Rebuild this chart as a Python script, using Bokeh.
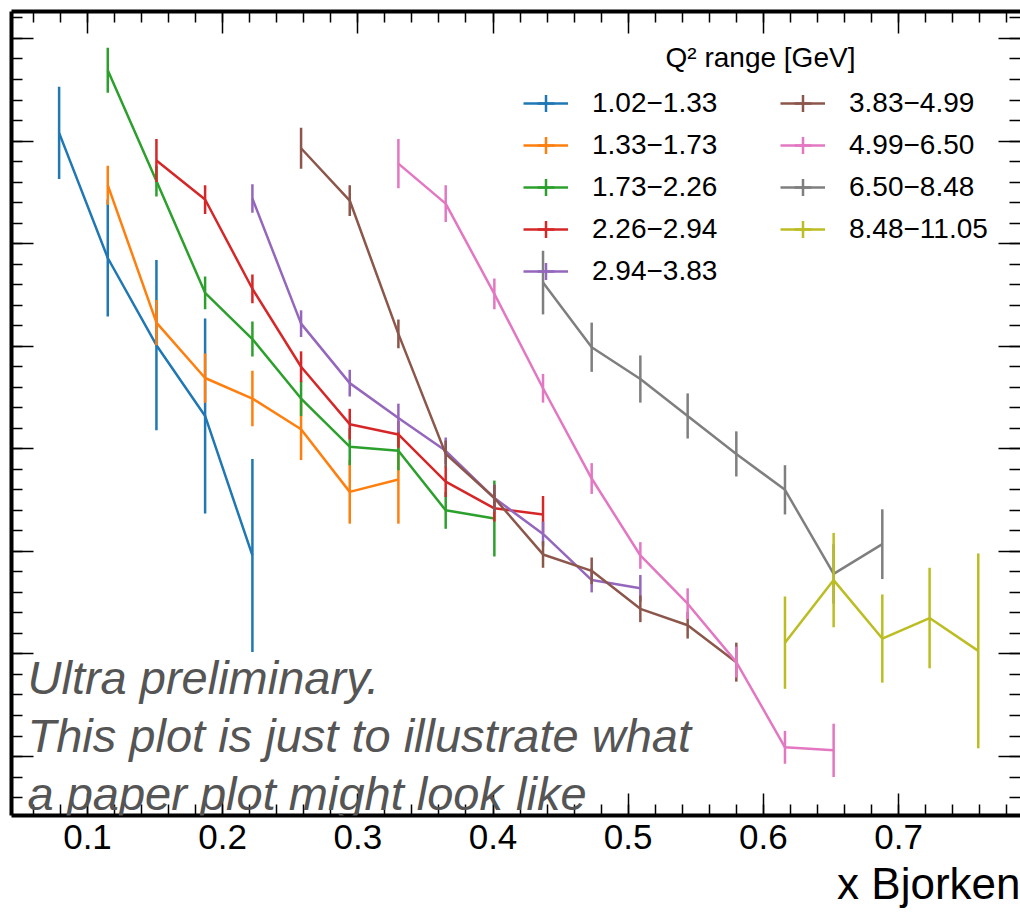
import numpy as np
from bokeh.plotting import figure
from bokeh.models import (ColumnDataSource, Legend, LegendItem, Label, Title,
                          LinearAxis, SingleIntervalTicker)
from bokeh.embed import file_html
from bokeh.resources import INLINE

# ---------------- data ----------------
q2_ranges = ["1.02−1.33", "1.33−1.73", "1.73−2.26", "2.26−2.94", "2.94−3.83",
             "3.83−4.99", "4.99−6.50", "6.50−8.48", "8.48−11.05"]
colors = ["#1f77b4", "#ff7f0e", "#2ca02c", "#d62728", "#9467bd",
          "#8c564b", "#e377c2", "#7f7f7f", "#bcbd22"]

x_q1 = [0.079, 0.115, 0.151, 0.187, 0.222]
y_q1 = [0.608, 0.486, 0.401, 0.332, 0.196]
e_q1 = [0.045, 0.057, 0.083, 0.095, 0.094]

x_q2 = [0.115, 0.151, 0.187, 0.222, 0.258, 0.294, 0.330]
y_q2 = [0.557, 0.423, 0.369, 0.349, 0.319, 0.258, 0.270]
e_q2 = [0.019, 0.022, 0.024, 0.027, 0.030, 0.031, 0.043]

x_q3 = [0.115, 0.151, 0.187, 0.222, 0.258, 0.294, 0.330, 0.365, 0.401]
y_q3 = [0.669, 0.561, 0.452, 0.407, 0.349, 0.302, 0.298, 0.240, 0.232]
e_q3 = [0.022, 0.015, 0.016, 0.017, 0.017, 0.018, 0.019, 0.018, 0.037]

x_q4 = [0.151, 0.187, 0.222, 0.258, 0.294, 0.330, 0.365, 0.401, 0.437]
y_q4 = [0.581, 0.543, 0.456, 0.380, 0.324, 0.314, 0.268, 0.242, 0.236]
e_q4 = [0.021, 0.014, 0.014, 0.015, 0.015, 0.013, 0.015, 0.013, 0.018]

x_q5 = [0.222, 0.258, 0.294, 0.330, 0.365, 0.401, 0.437, 0.473, 0.509]
y_q5 = [0.544, 0.422, 0.364, 0.330, 0.298, 0.252, 0.217, 0.172, 0.164]
e_q5 = [0.014, 0.013, 0.013, 0.014, 0.013, 0.013, 0.012, 0.012, 0.013]

x_q6 = [0.258, 0.294, 0.330, 0.365, 0.401, 0.437, 0.473, 0.509, 0.544, 0.580]
y_q6 = [0.593, 0.542, 0.412, 0.295, 0.252, 0.197, 0.181, 0.144, 0.128, 0.092]
e_q6 = [0.020, 0.015, 0.014, 0.013, 0.013, 0.013, 0.013, 0.013, 0.013, 0.019]

x_q7 = [0.330, 0.365, 0.401, 0.437, 0.473, 0.509, 0.544, 0.580, 0.616, 0.652]
y_q7 = [0.578, 0.539, 0.451, 0.359, 0.271, 0.196, 0.149, 0.092, 0.009, 0.006]
e_q7 = [0.024, 0.018, 0.015, 0.014, 0.015, 0.013, 0.015, 0.015, 0.016, 0.026]

x_q8 = [0.437, 0.473, 0.509, 0.544, 0.580, 0.616, 0.652, 0.688]
y_q8 = [0.462, 0.399, 0.368, 0.332, 0.295, 0.260, 0.178, 0.207]
e_q8 = [0.031, 0.024, 0.023, 0.022, 0.022, 0.024, 0.029, 0.034]

x_q9 = [0.616, 0.652, 0.688, 0.723, 0.759]
y_q9 = [0.111, 0.172, 0.115, 0.135, 0.103]
e_q9 = [0.045, 0.046, 0.043, 0.049, 0.095]

xs_all = [x_q1, x_q2, x_q3, x_q4, x_q5, x_q6, x_q7, x_q8, x_q9]
ys_all = [y_q1, y_q2, y_q3, y_q4, y_q5, y_q6, y_q7, y_q8, y_q9]
es_all = [e_q1, e_q2, e_q3, e_q4, e_q5, e_q6, e_q7, e_q8, e_q9]

legend_title = "Q² range [GeV]"
x_title = "x Bjorken"
note_lines = ["Ultra preliminary.",
              "This plot is just to illustrate what",
              "a paper plot might look like"]

# ---------------- layout (canvas pixels) ----------------
W, H = 1020, 914
FL, FR, FT, FB = 11, 1020, 11, 815
PX_PER_X = 1351.7
X0 = 0.1 + (FL - 87) / PX_PER_X
X1 = 0.1 + (FR - 87) / PX_PER_X
Y0, Y1 = -0.0575, 0.7263


def px_x(px):
    return X0 + (px - FL) / (FR - FL) * (X1 - X0)


def px_y(py):
    return Y1 - (py - FT) / (FB - FT) * (Y1 - Y0)


p = figure(width=W, height=H, x_range=(X0, X1), y_range=(Y0, Y1),
           output_backend="svg", toolbar_location=None,
           min_border_left=FL, min_border_right=0,
           min_border_top=FT, min_border_bottom=H - FB,
           background_fill_color="white", border_fill_color="white")
p.grid.visible = False
p.outline_line_color = None

FONT = "Liberation Sans"


def style_axis(ax, labels=False):
    ax.ticker = SingleIntervalTicker(interval=0.1, num_minor_ticks=5)
    ax.major_tick_in = 22
    ax.major_tick_out = 0
    ax.minor_tick_in = 11
    ax.minor_tick_out = 0
    ax.major_tick_line_width = 1.5
    ax.minor_tick_line_width = 1.5
    ax.major_tick_line_color = "black"
    ax.minor_tick_line_color = "black"
    ax.axis_line_color = "black"
    ax.axis_line_width = 4
    if labels:
        ax.major_label_text_font = FONT
        ax.major_label_text_font_size = "35px"
        ax.major_label_text_color = "black"
        ax.major_label_standoff = 9
    else:
        ax.major_label_text_font_size = "1px"
        ax.major_label_text_color = None
        ax.major_label_standoff = 0


xax = p.xaxis[0]
style_axis(xax, labels=True)

style_axis(p.yaxis[0])
top_ax = LinearAxis()
style_axis(top_ax)
p.add_layout(top_ax, "above")
right_ax = LinearAxis(fixed_location=X1)
style_axis(right_ax)
right_ax.axis_line_color = None
p.add_layout(right_ax, "right")

# x-axis title, right aligned under the axis
p.add_layout(Title(text=x_title, align="right", standoff=11,
                   text_font=FONT, text_font_size="44px",
                   text_font_style="normal", text_color="black"), "below")

# ---------------- data drawing ----------------
items = []
for i in range(9):
    xs, ys, es = xs_all[i], ys_all[i], es_all[i]
    src = ColumnDataSource(dict(x=xs, y=ys,
                                lo=[a - b for a, b in zip(ys, es)],
                                hi=[a + b for a, b in zip(ys, es)]))
    ln = p.line("x", "y", source=src, line_color=colors[i], line_width=2.5)
    p.segment(x0="x", y0="lo", x1="x", y1="hi", source=src,
              line_color=colors[i], line_width=2.5)
    # zero-size markers: invisible on the data, give the "+" legend symbol
    mk = p.scatter("x", "y", source=src, marker="cross", size=0,
                   line_color=colors[i], line_width=2.5)
    items.append(LegendItem(label=q2_ranges[i], renderers=[ln, mk], index=0))

ROW = 42
common = dict(padding=0, margin=0, spacing=0, glyph_width=45, glyph_height=ROW,
              label_standoff=24, label_text_font=FONT,
              label_text_font_size="28px", label_text_color="black",
              background_fill_alpha=0, border_line_alpha=0,
              label_height=30)
top_row = 103 - ROW // 2
leg1 = Legend(items=items[:5], location=(523 - FL, FB - (top_row + 5 * ROW)), **common)
leg2 = Legend(items=items[5:], location=(780 - FL, FB - (top_row + 4 * ROW)), **common)
p.add_layout(leg1)
p.add_layout(leg2)

p.add_layout(Label(x=px_x(760), y=px_y(57), text=legend_title,
                   text_align="center", text_baseline="middle",
                   text_font=FONT, text_font_size="28px", text_color="black"))

for txt, base in zip(note_lines, [677, 735, 793]):
    p.add_layout(Label(x=px_x(27), y=px_y(base), text=txt,
                       text_align="left", text_baseline="alphabetic",
                       text_font=FONT, text_font_style="italic",
                       text_font_size="47px", text_color="#555555"))

open("out.html", "w").write(file_html(p, INLINE))
